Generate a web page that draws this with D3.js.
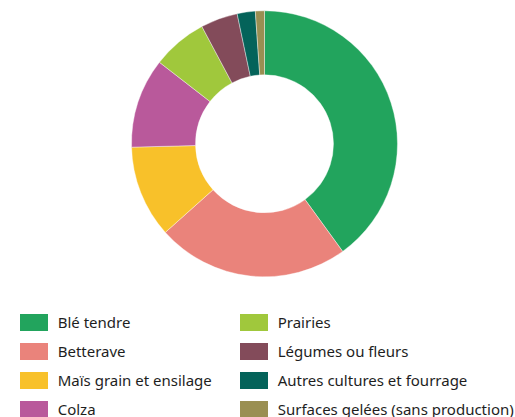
<!DOCTYPE html>
<html>
<head>
<meta charset="utf-8">
<script src="https://cdn.jsdelivr.net/npm/d3@7"></script>
<style>
  body { margin: 0; background: #fff; }
  text { font-family: "Noto Sans", sans-serif; }
</style>
</head>
<body>
<div id="wrapper"></div>
<script>
const categories = [
  "Blé tendre", "Betterave", "Maïs grain et ensilage", "Colza",
  "Prairies", "Légumes ou fleurs", "Autres cultures et fourrage",
  "Surfaces gelées (sans production)"
]
const values = [40.0, 23.4, 11.2, 10.9, 6.7, 4.5, 2.2, 1.1]
const colors = ["#22a45d", "#ea837b", "#f8c12a", "#b9599b",
  "#a0c83c", "#834b5a", "#04635a", "#9a8f52"]

const width = 515
const height = 417

const svg = d3.select("#wrapper")
  .append("svg")
    .attr("width", width)
    .attr("height", height)

const color = d3.scaleOrdinal()
  .domain(categories)
  .range(colors)

const pie = d3.pie()
  .sort(null)
  .value(d => d.value)

const arc = d3.arc()
  .innerRadius(69)
  .outerRadius(133)

const data = categories.map((c, i) => ({ name: c, value: values[i] }))

const donut = svg.append("g")
  .attr("transform", "translate(264.5, 143.8)")

donut.selectAll("path")
  .data(pie(data))
  .join("path")
    .attr("d", arc)
    .attr("fill", d => color(d.data.name))
    .attr("stroke", "#fff")
    .attr("stroke-width", 0.4)

// legend, two columns of four
const legend = svg.append("g")
const items = legend.selectAll("g")
  .data(data)
  .join("g")
    .attr("transform", (d, i) => {
      const col = Math.floor(i / 4)
      const row = i % 4
      return `translate(${20 + col * 220}, ${314 + row * 29})`
    })

items.append("rect")
  .attr("width", 28)
  .attr("height", 17)
  .attr("fill", d => color(d.name))

items.append("text")
  .attr("x", 37.7)
  .attr("y", 8.5)
  .attr("dy", "0.35em")
  .attr("fill", "#1e1e1e")
  .style("font-size", "15px")
  .text(d => d.name)
</script>
</body>
</html>
